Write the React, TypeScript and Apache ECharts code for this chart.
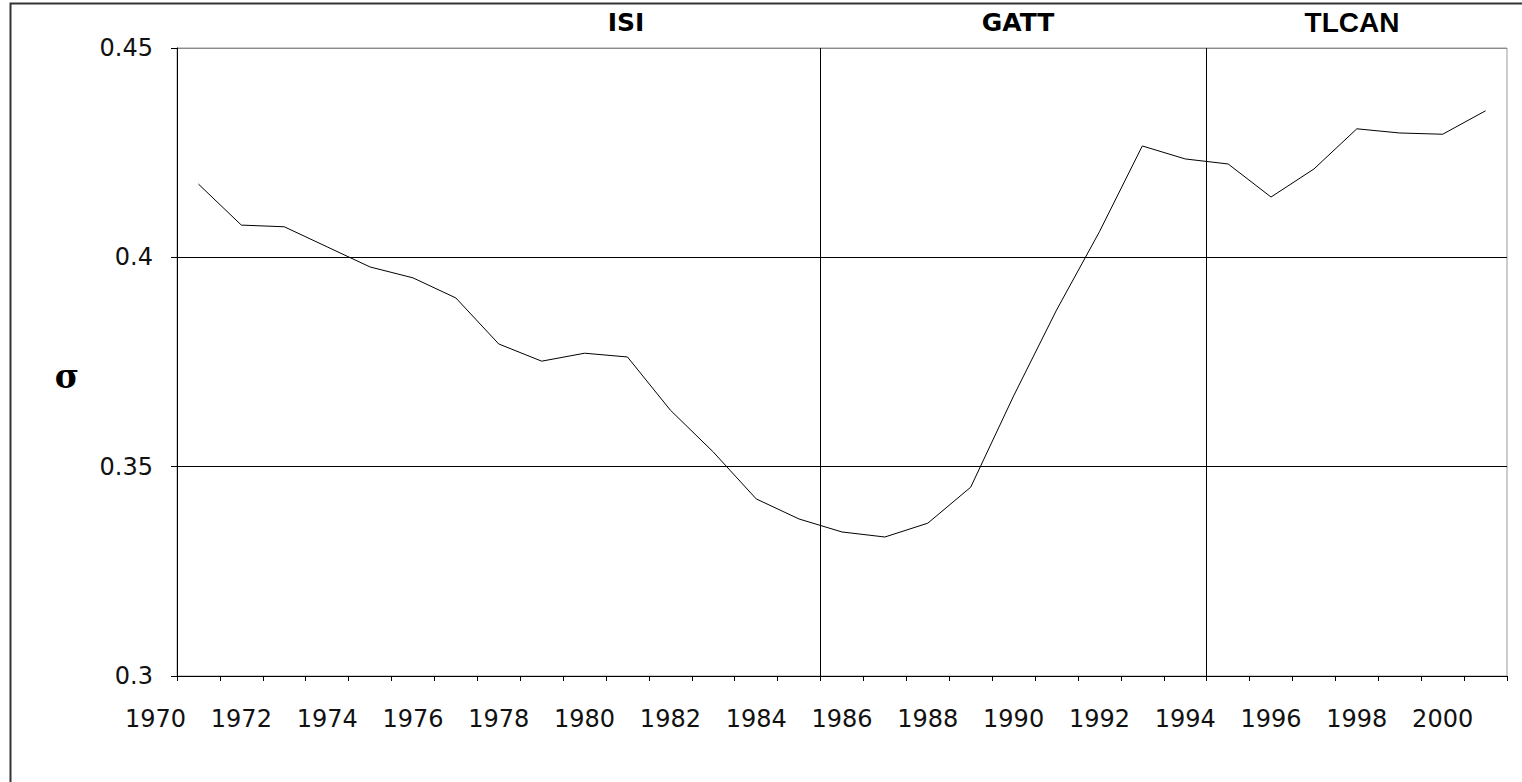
import React, { useEffect, useRef } from "react";
import * as echarts from "echarts";

const years: string[] = [
  "1971","1972","1973","1974","1975","1976","1977","1978","1979","1980",
  "1981","1982","1983","1984","1985","1986","1987","1988","1989","1990",
  "1991","1992","1993","1994","1995","1996","1997","1998","1999","2000","2001",
];
const sigma: number[] = [
  0.4175, 0.4077, 0.4073, 0.4025, 0.3977, 0.3951, 0.3903, 0.3793, 0.3752, 0.3771,
  0.3762, 0.3635, 0.3535, 0.3423, 0.3375, 0.3344, 0.3332, 0.3365, 0.3451, 0.3669,
  0.3874, 0.4061, 0.4266, 0.4235, 0.4223, 0.4144, 0.4211, 0.4307, 0.4297, 0.4294, 0.4350,
];
const periodBreaks: number[] = [1985.5, 1994.5];
const periodLabels = [
  { text: "ISI", x: 626, size: 25 },
  { text: "GATT", x: 1018, size: 25 },
  { text: "TLCAN", x: 1352, size: 28 },
];
const yTicks = { min: 0.3, max: 0.45, interval: 0.05 };
const extraYearLabel = 1970;

const LABEL_FONT = "'DejaVu Sans', 'Liberation Sans', Arial, sans-serif";
const LABEL_SIZE = 24;

export default function App() {
  const ref = useRef<HTMLDivElement>(null);
  useEffect(() => {
    if (!ref.current) return;
    const chart = echarts.init(ref.current, null, { renderer: "svg" });
    chart.setOption({
      animation: false,
      backgroundColor: "#fff",
      grid: {
        left: 177,
        right: 15,
        top: 48,
        bottom: 106,
        show: true,
        borderColor: "#9a9a9a",
        borderWidth: 1,
      },
      xAxis: [
        {
          type: "category",
          data: years,
          boundaryGap: true,
          axisLine: { show: true, lineStyle: { color: "#000", width: 1 } },
          axisTick: { show: true, interval: 0, length: 5, lineStyle: { color: "#000" } },
          axisLabel: {
            interval: (index: number) => index % 2 === 1,
            margin: 31,
            color: "#111",
            fontSize: LABEL_SIZE,
            fontFamily: LABEL_FONT,
          },
          splitLine: { show: false },
        },
        {
          type: "value",
          min: 1970.5,
          max: 2001.5,
          show: false,
          position: "bottom",
        },
      ],
      yAxis: {
        type: "value",
        min: yTicks.min,
        max: yTicks.max,
        interval: yTicks.interval,
        axisLine: { show: true, lineStyle: { color: "#000", width: 1 } },
        axisTick: { show: true, length: 6, lineStyle: { color: "#000" } },
        axisLabel: {
          margin: 24,
          color: "#111",
          fontSize: LABEL_SIZE,
          fontFamily: LABEL_FONT,
          formatter: (v: number) => String(+v.toFixed(2)),
        },
        splitLine: {
          show: true,
          lineStyle: { color: ["#000", "#000", "#000", "#8a8a8a"], width: 1 },
        },
      },
      series: [
        {
          type: "line",
          data: sigma,
          xAxisIndex: 0,
          symbol: "none",
          lineStyle: { color: "#000", width: 1 },
          silent: true,
        },
        {
          type: "line",
          data: [],
          xAxisIndex: 1,
          symbol: "none",
          silent: true,
          markLine: {
            silent: true,
            symbol: ["none", "none"],
            label: { show: false },
            lineStyle: { color: "#000", width: 1, type: "solid" },
            data: periodBreaks.map((x) => ({ xAxis: x })),
          },
        },
      ],
    });

    const px = chart.convertToPixel({ xAxisIndex: 1 }, extraYearLabel) as number;
    const axisY = chart.convertToPixel({ yAxisIndex: 0 }, yTicks.min) as number;

    chart.setOption({
      graphic: [
        {
          type: "rect",
          shape: { x: 10.5, y: 3.5, width: 1530, height: 800 },
          style: { fill: "none", stroke: "#333", lineWidth: 2 },
          silent: true,
          z: 100,
        },
        {
          type: "text",
          x: px,
          y: axisY + 31,
          style: {
            text: String(extraYearLabel),
            fill: "#111",
            font: `${LABEL_SIZE}px ${LABEL_FONT}`,
            align: "center",
            verticalAlign: "top",
          },
        },
        ...periodLabels.map((p) => ({
          type: "text",
          x: p.x,
          y: 22,
          style: {
            text: p.text,
            fill: "#000",
            font: `bold ${p.size}px ${p.text === "TLCAN" ? "'Liberation Sans', Arial" : "'DejaVu Sans'"}, sans-serif`,
            align: "center",
            verticalAlign: "middle",
          },
        })),
        {
          type: "text",
          x: 67,
          y: 376,
          style: {
            text: "σ",
            fill: "#000",
            font: "bold 33px 'DejaVu Serif', 'Liberation Serif', serif",
            align: "center",
            verticalAlign: "middle",
          },
        },
      ],
    });

    return () => chart.dispose();
  }, []);

  return (
    <div
      ref={ref}
      style={{ position: "fixed", left: 0, top: 0, width: 1522, height: 782 }}
    />
  );
}
